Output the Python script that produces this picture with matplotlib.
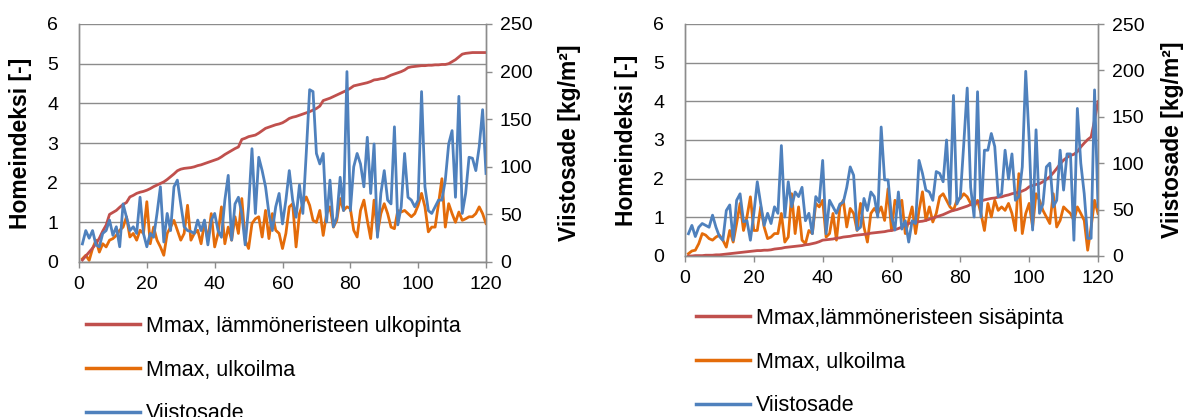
import matplotlib
matplotlib.use("Agg")
import matplotlib.pyplot as plt
from matplotlib.lines import Line2D

plt.rcParams['font.family'] = ['Liberation Sans', 'DejaVu Sans']

x = list(range(1, 121))

# ---------- Left panel ----------
left_red = [0.05, 0.15, 0.25, 0.35, 0.46, 0.6, 0.78, 0.93, 1.2, 1.25,
            1.3, 1.38, 1.45, 1.5, 1.64, 1.68, 1.73, 1.76, 1.78, 1.81,
            1.85, 1.9, 1.94, 1.98, 2.02, 2.08, 2.15, 2.22, 2.3, 2.34,
            2.36, 2.37, 2.38, 2.4, 2.43, 2.45, 2.48, 2.51, 2.54, 2.57,
            2.6, 2.65, 2.71, 2.76, 2.81, 2.86, 2.9, 3.09, 3.12, 3.16,
            3.18, 3.2, 3.25, 3.31, 3.37, 3.4, 3.43, 3.46, 3.48, 3.51,
            3.56, 3.62, 3.65, 3.67, 3.7, 3.73, 3.76, 3.79, 3.83, 3.87,
            3.93, 4.07, 4.1, 4.13, 4.17, 4.21, 4.25, 4.29, 4.33, 4.38,
            4.44, 4.46, 4.48, 4.5, 4.52, 4.55, 4.59, 4.6, 4.62, 4.63,
            4.67, 4.71, 4.74, 4.77, 4.8, 4.84, 4.9, 4.92, 4.93, 4.94,
            4.95, 4.95, 4.96, 4.96, 4.97, 4.97, 4.98, 4.98, 5.0, 5.05,
            5.1, 5.17, 5.24, 5.26, 5.27, 5.28, 5.28, 5.28, 5.28, 5.28]

left_orange = [0.08, 0.17, 0.04, 0.34, 0.55, 0.25, 0.46, 0.38, 0.55, 0.59,
               0.67, 0.8, 0.88, 1.14, 0.63, 0.72, 0.55, 0.8, 0.72, 1.52,
               0.46, 0.88, 0.55, 0.38, 0.17, 0.72, 0.88, 1.05, 0.8, 0.55,
               0.72, 1.43, 0.55, 0.72, 0.8, 0.46, 1.0, 0.55, 1.22, 0.38,
               0.72, 1.39, 0.46, 0.88, 0.55, 1.14, 0.72, 1.6, 0.55, 0.34,
               0.97, 1.09, 1.14, 0.63, 1.3, 0.59, 1.22, 0.8, 0.72, 0.34,
               0.72, 1.39, 1.47, 0.38, 1.22, 1.47, 1.64, 1.43, 1.05, 1.0,
               1.3, 0.67, 1.22, 1.39, 0.88, 1.05, 1.6, 1.3, 1.39, 1.35,
               0.8, 0.63, 1.3, 1.56, 1.05, 0.59, 1.56, 0.72, 1.22, 1.47,
               1.22, 0.88, 0.84, 1.3, 1.26, 1.3, 1.22, 1.14, 1.22, 1.43,
               1.73, 1.39, 0.76, 0.88, 0.88, 1.47, 2.1, 0.88, 1.47, 1.22,
               1.0, 1.26, 1.05, 1.09, 1.14, 1.14, 1.22, 1.39, 1.22, 0.97]

left_blue = [19, 33, 25, 33, 18, 16, 30, 33, 44, 28,
             37, 16, 61, 47, 33, 37, 30, 68, 30, 16,
             30, 26, 51, 79, 21, 51, 33, 79, 86, 61,
             37, 33, 32, 30, 44, 33, 44, 18, 44, 51,
             33, 26, 65, 91, 23, 61, 68, 51, 18, 58,
             119, 51, 110, 96, 79, 51, 33, 58, 72, 40,
             65, 96, 65, 47, 81, 51, 114, 181, 179, 114,
             103, 114, 42, 86, 37, 47, 89, 54, 200, 54,
             100, 114, 103, 79, 131, 72, 124, 26, 72, 96,
             65, 61, 142, 39, 58, 114, 68, 65, 58, 65,
             179, 79, 54, 51, 58, 65, 65, 86, 124, 138,
             68, 174, 51, 72, 110, 109, 96, 121, 160, 93]

# ---------- Right panel ----------
right_red = [0.0, 0.0, 0.01, 0.01, 0.01, 0.02, 0.02, 0.02, 0.03, 0.03,
             0.04, 0.05, 0.06, 0.07, 0.08, 0.09, 0.1, 0.11, 0.12, 0.13,
             0.14, 0.14, 0.15, 0.15, 0.16, 0.18, 0.19, 0.2, 0.22, 0.23,
             0.24, 0.25, 0.26, 0.27, 0.29, 0.3, 0.32, 0.34, 0.37, 0.41,
             0.42, 0.43, 0.44, 0.46, 0.47, 0.49, 0.5, 0.51, 0.53, 0.54,
             0.55, 0.56, 0.57, 0.59, 0.6, 0.61, 0.62, 0.63, 0.65, 0.66,
             0.68, 0.71, 0.75, 0.8, 0.84, 0.86, 0.87, 0.89, 0.9, 0.92,
             0.95, 0.98, 1.01, 1.04, 1.07, 1.11, 1.15, 1.18, 1.2, 1.23,
             1.26, 1.29, 1.33, 1.36, 1.39, 1.42, 1.45, 1.47, 1.49, 1.5,
             1.52, 1.53, 1.56, 1.58, 1.61, 1.63, 1.65, 1.68, 1.72, 1.79,
             1.82, 1.85, 1.87, 1.92, 1.98, 2.05, 2.15, 2.26, 2.38, 2.48,
             2.55, 2.6, 2.63, 2.7, 2.82, 2.92, 3.01, 3.08, 3.51, 3.99]

right_orange = [0.06, 0.13, 0.15, 0.32, 0.58, 0.54, 0.45, 0.41, 0.49, 0.54,
                0.41, 0.23, 0.66, 0.36, 0.84, 1.36, 0.66, 1.01, 1.53, 0.66,
                0.66, 1.27, 0.75, 0.45, 0.49, 0.58, 0.58, 1.1, 0.36, 0.49,
                1.61, 0.58, 1.27, 0.41, 0.32, 0.66, 0.58, 1.36, 1.27, 1.44,
                0.49, 0.58, 1.1, 0.41, 1.27, 1.44, 0.75, 1.23, 1.1, 0.66,
                1.36, 0.75, 0.36, 1.1, 1.23, 1.1, 1.27, 0.92, 1.74, 0.66,
                1.44, 1.27, 1.44, 0.58, 0.92, 1.27, 0.58, 1.18, 1.66, 0.92,
                1.27, 0.88, 1.1, 1.53, 1.61, 1.44, 1.27, 1.18, 1.44, 1.49,
                1.61, 1.53, 1.36, 1.27, 1.44, 1.1, 0.66, 1.36, 1.01, 1.44,
                1.18, 1.27, 1.18, 1.36, 1.1, 0.66, 2.13, 0.58, 1.1, 1.36,
                0.75, 1.61, 1.44, 1.18, 1.01, 0.84, 1.61, 0.75, 0.92, 1.27,
                1.18, 1.1, 0.92, 1.27, 1.1, 0.92, 0.15, 0.75, 1.44, 1.1]

right_blue = [24, 33, 21, 31, 35, 33, 31, 44, 31, 21,
              17, 49, 55, 17, 60, 67, 37, 38, 17, 46,
              80, 56, 33, 46, 35, 53, 46, 119, 42, 80,
              53, 69, 64, 74, 38, 46, 24, 64, 58, 103,
              24, 60, 53, 46, 56, 58, 74, 96, 87, 28,
              31, 62, 49, 69, 64, 42, 139, 82, 82, 42,
              28, 69, 29, 38, 15, 38, 35, 103, 89, 71,
              69, 60, 91, 89, 80, 125, 56, 173, 56, 64,
              121, 181, 74, 42, 177, 42, 114, 114, 132, 118,
              64, 67, 114, 83, 110, 60, 64, 96, 199, 125,
              28, 136, 46, 56, 96, 100, 53, 60, 114, 71,
              110, 110, 17, 159, 100, 67, 19, 19, 179, 53]

left_labels = ["Mmax, lämmöneristeen ulkopinta", "Mmax, ulkoilma", "Viistosade"]
right_labels = ["Mmax,lämmöneristeen sisäpinta", "Mmax, ulkoilma", "Viistosade"]

xticks = [0, 20, 40, 60, 80, 100, 120]
yticks_left = [0, 1, 2, 3, 4, 5, 6]
yticks_right = [0, 50, 100, 150, 200, 250]

RED = "#C0504D"
ORANGE = "#E46C0A"
BLUE = "#4F81BD"
GRID = "#8C8C8C"
FS_TICK = 14
FS_LEG = 15.5
FS_LAB = 16.5
LW = 2.0

fig = plt.figure(figsize=(11.85, 4.17), dpi=100)

def make_panel(rect, red, orange, blue, labels, leg_anchor, rpad):
    ax = fig.add_axes(rect)
    ax2 = ax.twinx()
    ax.plot(x, red, color=RED, lw=LW, zorder=3)
    ax.plot(x, orange, color=ORANGE, lw=LW, zorder=2)
    ax2.plot(x, blue, color=BLUE, lw=LW, zorder=4)
    ax.set_xlim(0, 120)
    ax.set_ylim(0, 6)
    ax2.set_ylim(0, 250)
    ax.set_xticks(xticks)
    ax.set_yticks(yticks_left)
    ax2.set_yticks(yticks_right)
    ax.grid(axis='y', color=GRID, lw=1.0)
    ax.set_axisbelow(True)
    for a in (ax, ax2):
        for s in a.spines.values():
            s.set_color(GRID)
            s.set_linewidth(1.0)
        a.spines['top'].set_visible(False)
        a.tick_params(colors=GRID, labelcolor='black', labelsize=FS_TICK,
                      length=4, width=1.0, direction='out')
    ax.tick_params(axis='x', pad=6)
    ax.tick_params(axis='y', length=0, pad=15)
    ax2.tick_params(axis='y', pad=6)
    ax.set_ylabel("Homeindeksi [-]", fontsize=FS_LAB, fontweight='bold', labelpad=11)
    ax2.set_ylabel("Viistosade [kg/m²]", fontsize=FS_LAB, fontweight='bold', labelpad=rpad)
    handles = [Line2D([], [], color=c, lw=2.5) for c in (RED, ORANGE, BLUE)]
    fig.legend(handles, labels, loc='upper left', bbox_to_anchor=leg_anchor,
               frameon=False, fontsize=FS_LEG, handlelength=2.5, handletextpad=0.3,
               labelspacing=1.05, borderpad=0, borderaxespad=0)
    return ax, ax2

make_panel([79/1185, 1 - 262/417, 407/1185, 238/417],
           left_red, left_orange, left_blue, left_labels,
           (86/1185, 1 - 316/417), 18)
make_panel([685/1185, 1 - 256/417, 413/1185, 232/417],
           right_red, right_orange, right_blue, right_labels,
           (696/1185, 1 - 308/417), 12)

fig.savefig("out.png", dpi=100)
